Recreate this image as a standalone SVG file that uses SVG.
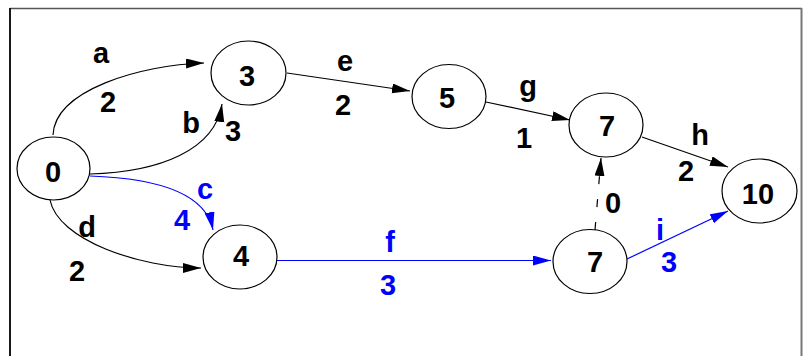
<svg xmlns="http://www.w3.org/2000/svg" width="805" height="356" viewBox="0 0 805 356">
<defs>
<marker id="ab" markerUnits="userSpaceOnUse" markerWidth="19" markerHeight="11" refX="18" refY="5" orient="auto"><path d="M0,0 L18,5 L0,10 z" fill="#000"/></marker>
<marker id="au" markerUnits="userSpaceOnUse" markerWidth="19" markerHeight="11" refX="18" refY="5" orient="auto"><path d="M0,0 L18,5 L0,10 z" fill="#0000ff"/></marker>
</defs>
<style>
.n{fill:#fff;stroke:#000;stroke-width:1.2}
.t{font-family:"Liberation Sans",Arial,sans-serif;font-weight:bold;font-size:29px;text-anchor:middle;fill:#000}
.bl{fill:#0000ff}
.e{fill:none;stroke:#000;stroke-width:1.2}
.eb{fill:none;stroke:#0000ff;stroke-width:1.2}
</style>
<rect width="805" height="356" fill="#fff"/>
<g id="frame">
<line x1="10" y1="8.5" x2="802" y2="8.5" stroke="#555" stroke-width="1.5"/>
<line x1="10" y1="8" x2="10" y2="356" stroke="#000" stroke-width="1.8"/>
<line x1="801.5" y1="8" x2="801.5" y2="356" stroke="#777" stroke-width="2"/>
</g>
<g id="connectors">
<path class="e" d="M53,135 C55,90 140,65 204,63" marker-end="url(#ab)"/>
<path class="e" d="M90,174 C160,172 215,150 222,104" marker-end="url(#ab)"/>
<path class="eb" d="M90,176 C150,178 205,190 213,230" marker-end="url(#au)"/>
<path class="e" d="M50,200 C58,240 140,268 201,268" marker-end="url(#ab)"/>
<path class="e" d="M287,73 L410,91" marker-end="url(#ab)"/>
<path class="e" d="M486,102 L570,120" marker-end="url(#ab)"/>
<path class="e" d="M642,137 L728,167" marker-end="url(#ab)"/>
<path class="e" d="M595,230 L601,158" stroke-dasharray="8,15" marker-end="url(#ab)"/>
<path class="eb" d="M277,260.5 L551,260.5" marker-end="url(#au)"/>
<path class="eb" d="M627,259 L728,211" marker-end="url(#au)"/>
</g>
<g id="labels">
<text class="t" x="101" y="63">a</text>
<text class="t" x="108" y="112">2</text>
<text class="t" x="191" y="133">b</text>
<text class="t" x="233" y="141">3</text>
<text class="t bl" x="205" y="199">c</text>
<text class="t bl" x="182" y="230">4</text>
<text class="t" x="87" y="237">d</text>
<text class="t" x="77" y="281">2</text>
<text class="t" x="345" y="71">e</text>
<text class="t" x="343" y="115">2</text>
<text class="t" x="528" y="96">g</text>
<text class="t" x="524" y="148">1</text>
<text class="t" x="700" y="145">h</text>
<text class="t" x="686" y="181">2</text>
<text class="t" x="613" y="213">0</text>
<text class="t bl" x="660" y="240">i</text>
<text class="t bl" x="669" y="272">3</text>
<text class="t bl" x="390" y="252">f</text>
<text class="t bl" x="388" y="295">3</text>
</g>
<g id="n0"><ellipse class="n" cx="53.5" cy="168.5" rx="36.5" ry="31.5"/><text class="t" x="53" y="182">0</text></g>
<g id="n3"><ellipse class="n" cx="248.5" cy="73" rx="37.5" ry="32"/><text class="t" x="247" y="86">3</text></g>
<g id="n4"><ellipse class="n" cx="240" cy="257" rx="37" ry="32"/><text class="t" x="241" y="266">4</text></g>
<g id="n5"><ellipse class="n" cx="449" cy="96.5" rx="37" ry="32"/><text class="t" x="447" y="108">5</text></g>
<g id="n7a"><ellipse class="n" cx="606" cy="125" rx="37" ry="32"/><text class="t" x="607" y="136">7</text></g>
<g id="n10"><ellipse class="n" cx="759.5" cy="191" rx="37.5" ry="32"/><text class="t" x="758" y="204">10</text></g>
<g id="n7b"><ellipse class="n" cx="590" cy="261.5" rx="37" ry="32"/><text class="t" x="595" y="272">7</text></g>
</svg>
